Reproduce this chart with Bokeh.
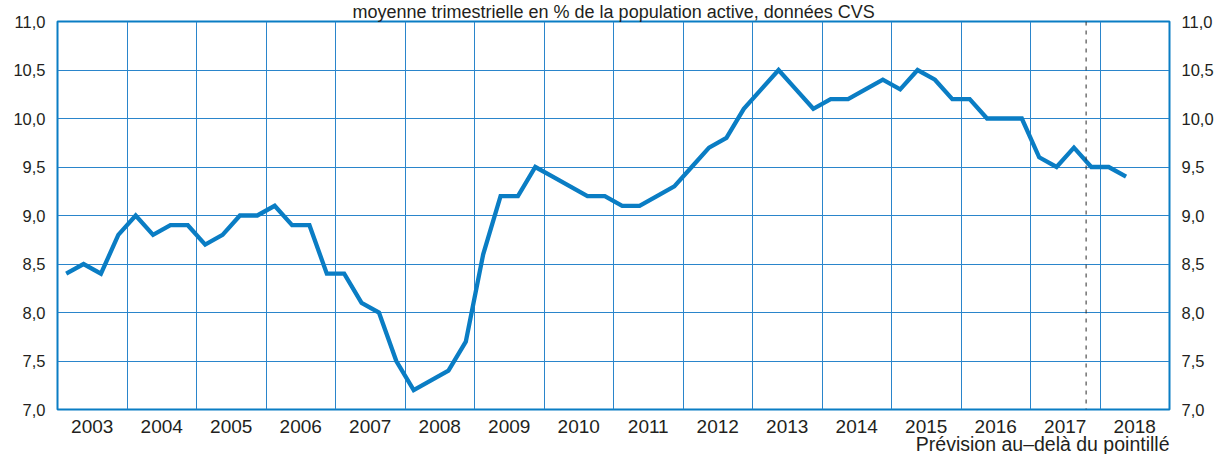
from bokeh.plotting import figure
from bokeh.models import Range1d, FixedTicker, LinearAxis, Span, Title, ColumnDataSource, Grid
from bokeh.embed import file_html
from bokeh.resources import INLINE

# ---- data (quarterly unemployment rate, % of labour force, SA) ----
first_year = 2003
last_year = 2018
rate_2003 = [8.4, 8.5, 8.4, 8.8]
rate_2004 = [9.0, 8.8, 8.9, 8.9]
rate_2005 = [8.7, 8.8, 9.0, 9.0]
rate_2006 = [9.1, 8.9, 8.9, 8.4]
rate_2007 = [8.4, 8.1, 8.0, 7.5]
rate_2008 = [7.2, 7.3, 7.4, 7.7]
rate_2009 = [8.6, 9.2, 9.2, 9.5]
rate_2010 = [9.4, 9.3, 9.2, 9.2]
rate_2011 = [9.1, 9.1, 9.2, 9.3]
rate_2012 = [9.5, 9.7, 9.8, 10.1]
rate_2013 = [10.3, 10.5, 10.3, 10.1]
rate_2014 = [10.2, 10.2, 10.3, 10.4]
rate_2015 = [10.3, 10.5, 10.4, 10.2]
rate_2016 = [10.2, 10.0, 10.0, 10.0]
rate_2017 = [9.6, 9.5, 9.7, 9.5]
rate_2018 = [9.5, 9.4]
forecast_start = 2017.8
y_ticks = [7.0, 7.5, 8.0, 8.5, 9.0, 9.5, 10.0, 10.5, 11.0]
y_tick_labels = ["7,0", "7,5", "8,0", "8,5", "9,0", "9,5", "10,0", "10,5", "11,0"]
year_labels = [str(y) for y in range(first_year, last_year + 1)]
title_text = "moyenne trimestrielle en % de la population active, données CVS"
note_text = "Prévision au\u2013delà du pointillé"

rates = (rate_2003 + rate_2004 + rate_2005 + rate_2006 + rate_2007 + rate_2008 +
         rate_2009 + rate_2010 + rate_2011 + rate_2012 + rate_2013 + rate_2014 +
         rate_2015 + rate_2016 + rate_2017 + rate_2018)
quarters_x = [first_year + (i + 0.5) / 4 for i in range(len(rates))]
src = ColumnDataSource(dict(x=quarters_x, y=rates))

FONT = "Liberation Sans"
TXT = "#231f20"
BLUE = "#0a7dc4"
GRID = "#2a85cb"

p = figure(width=1217, height=454, output_backend="svg", toolbar_location=None,
           x_range=Range1d(first_year, last_year + 1), y_range=Range1d(7.0, 11.0),
           min_border_left=57, min_border_right=48, min_border_top=20, min_border_bottom=45,
           x_axis_type=None, y_axis_type=None)
p.background_fill_color = "white"
p.border_fill_color = "white"
p.outline_line_color = BLUE
p.outline_line_width = 2
p.outline_line_alpha = 1.0

# titles (in side panels, so not clipped by the frame)
p.add_layout(Title(text=title_text, align="left", offset=295, standoff=-1,
                   text_font=FONT, text_font_size="18px", text_font_style="normal",
                   text_color=TXT), "above")

# axes
xaxis = LinearAxis(ticker=FixedTicker(ticks=[y + 0.5 for y in range(first_year, last_year + 1)]))
xaxis.major_label_overrides = {y + 0.5: lab for y, lab in zip(range(first_year, last_year + 1), year_labels)}
yaxis_l = LinearAxis(ticker=FixedTicker(ticks=y_ticks))
yaxis_r = LinearAxis(ticker=FixedTicker(ticks=y_ticks))
for ax in (yaxis_l, yaxis_r):
    ax.major_label_overrides = dict(zip(y_ticks, y_tick_labels))
for ax in (xaxis, yaxis_l, yaxis_r):
    ax.axis_line_color = None
    ax.major_tick_line_color = None
    ax.minor_tick_line_color = None
    ax.major_tick_out = 0
    ax.major_tick_in = 0
    ax.major_label_text_font = FONT
    ax.major_label_text_color = TXT
xaxis.major_label_text_font_size = "19px"
xaxis.major_label_standoff = 10
yaxis_l.major_label_text_font_size = "16.5px"
yaxis_r.major_label_text_font_size = "16.5px"
yaxis_l.major_label_standoff = 12
yaxis_r.major_label_standoff = 12
p.add_layout(xaxis, "below")
p.add_layout(yaxis_l, "left")
p.add_layout(yaxis_r, "right")

p.add_layout(Title(text=note_text, align="right", offset=0, standoff=-10,
                   text_font=FONT, text_font_size="19.5px", text_font_style="normal",
                   text_color=TXT), "below")

# grid
xgrid = Grid(dimension=0, ticker=FixedTicker(ticks=list(range(first_year + 1, last_year + 1))),
             grid_line_color=GRID, grid_line_width=1)
ygrid = Grid(dimension=1, ticker=FixedTicker(ticks=y_ticks[1:-1]),
             grid_line_color=GRID, grid_line_width=1)
p.add_layout(xgrid)
p.add_layout(ygrid)

# forecast marker
p.add_layout(Span(location=forecast_start, dimension="height", line_color="#2b2b2b",
                  line_width=1, line_dash="4 5"))

p.line("x", "y", source=src, line_color=BLUE, line_width=4.3, line_join="miter")

open("out.html", "w").write(file_html(p, INLINE))
